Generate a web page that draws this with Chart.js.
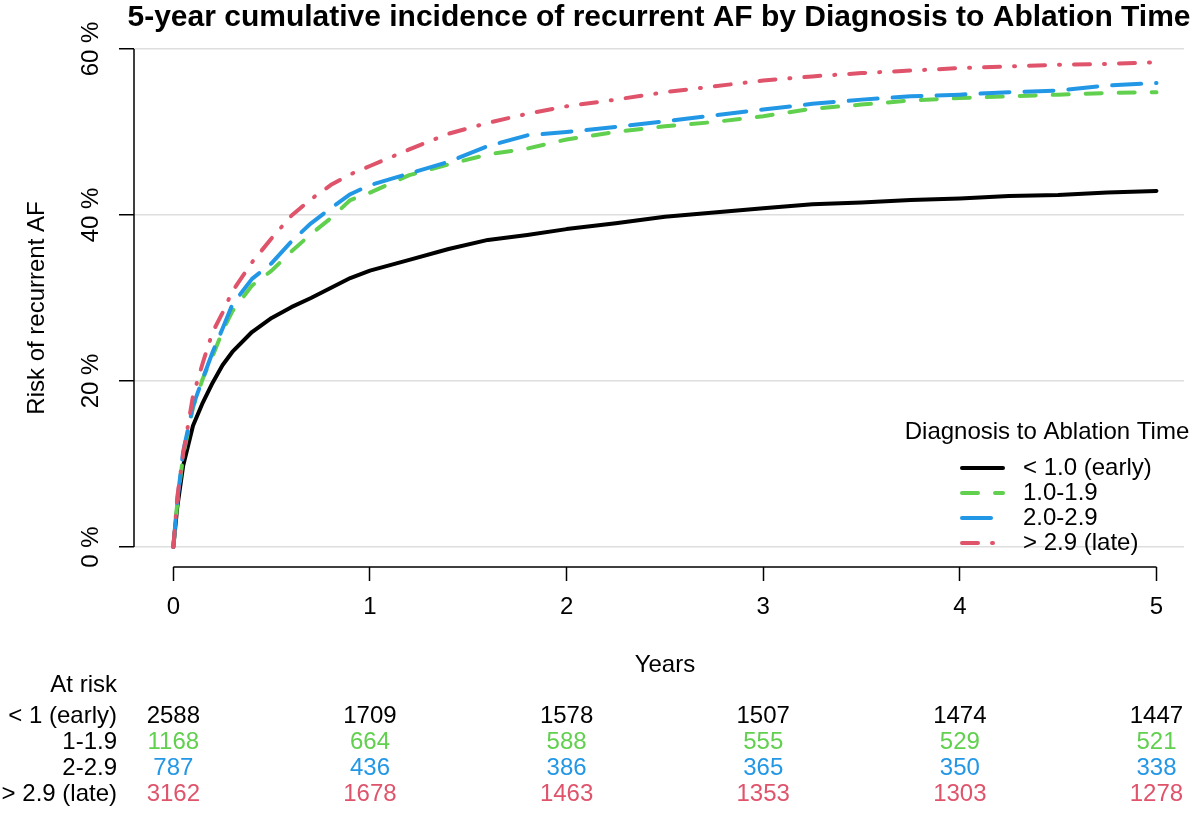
<!DOCTYPE html>
<html>
<head>
<meta charset="utf-8">
<script src="https://cdn.jsdelivr.net/npm/chart.js@4.4.1/dist/chart.umd.min.js"></script>
<style>
  html, body { margin: 0; padding: 0; background: #fff; }
</style>
</head>
<body>
<canvas id="cif" width="1200" height="818"></canvas>
<script>
const years = [0, 0.02, 0.05, 0.1, 0.15, 0.2, 0.25, 0.3, 0.4, 0.5, 0.6, 0.7, 0.8, 0.9, 1.0,
               1.2, 1.4, 1.6, 1.8, 2.0, 2.25, 2.5, 2.75, 3.0, 3.25, 3.5, 3.75, 4.0, 4.25, 4.5, 4.75, 5.0];

// Cumulative incidence (%) per group
const riskEarly = [0, 4.8, 9.8, 14.6, 17.4, 19.8, 21.9, 23.5, 25.9, 27.6, 28.9, 30.0, 31.2, 32.4, 33.3,
                   34.6, 35.9, 37.0, 37.6, 38.3, 39.0, 39.8, 40.3, 40.8, 41.3, 41.5, 41.8, 42.0, 42.3, 42.4, 42.7, 42.9];
const risk1to2 = [0, 5.3, 11.0, 16.8, 20.3, 23.0, 26.0, 28.4, 31.5, 33.3, 35.6, 37.7, 39.6, 41.8, 42.7,
                  44.8, 46.1, 47.3, 48.0, 49.1, 50.0, 50.7, 51.2, 51.9, 52.8, 53.3, 53.8, 54.1, 54.3, 54.5, 54.7, 54.8];
const risk2to3 = [0, 5.5, 11.5, 17.0, 20.3, 23.5, 26.3, 29.2, 32.3, 34.2, 36.8, 39.0, 40.8, 42.5, 43.6,
                  45.0, 46.4, 48.3, 49.6, 50.0, 50.6, 51.3, 52.0, 52.7, 53.4, 53.9, 54.3, 54.5, 54.8, 55.0, 55.6, 55.9];
const riskLate = [0, 6.0, 11.2, 18.2, 22.2, 25.9, 28.2, 30.8, 34.3, 37.2, 39.9, 41.9, 43.6, 44.9, 45.9,
                  47.9, 49.8, 51.1, 52.2, 53.1, 53.9, 54.8, 55.5, 56.2, 56.7, 57.1, 57.4, 57.7, 57.9, 58.1, 58.2, 58.4];

const groupLabels = ['< 1.0 (early)', '1.0-1.9', '2.0-2.9', '> 2.9 (late)'];
const groupColors = ['#000000', '#61D04F', '#2297E6', '#DF536B'];

// Numbers at risk table
const riskRowLabels = ['< 1 (early)', '1-1.9', '2-2.9', '> 2.9 (late)'];
const riskTimes = [0, 1, 2, 3, 4, 5];
const atRiskEarly = [2588, 1709, 1578, 1507, 1474, 1447];
const atRisk1to2 = [1168, 664, 588, 555, 529, 521];
const atRisk2to3 = [787, 436, 386, 365, 350, 338];
const atRiskLate = [3162, 1678, 1463, 1353, 1303, 1278];

const xTicks = [0, 1, 2, 3, 4, 5];
const yTicks = [0, 20, 40, 60];

const chartTitle = '5-year cumulative incidence of recurrent AF by Diagnosis to Ablation Time';
const legendTitle = 'Diagnosis to Ablation Time';
const FONT = '"Liberation Sans", Arial, sans-serif';

function toPoints(vals) {
    return years.map((t, i) => ({x: t, y: vals[i]}));
}

const dashes = [[], [16, 17], [29, 15], [16, 14, 1, 14]];

const datasets = [riskEarly, risk1to2, risk2to3, riskLate].map((vals, i) => ({
    label: groupLabels[i],
    data: toPoints(vals),
    borderColor: groupColors[i],
    borderWidth: 4,
    borderDash: dashes[i],
    borderCapStyle: 'round',
    borderJoinStyle: 'round',
    pointRadius: 0,
    tension: 0,
    fill: false,
    order: 3 - i          // late group painted last
}));

/* Title, axis lines, y labels, legend and at-risk table */
const extras = {
    id: 'extras',
    afterDraw(chart) {
        const {ctx, chartArea} = chart;
        const x = chart.scales.x, y = chart.scales.y;
        ctx.save();
        ctx.fillStyle = '#000';

        ctx.font = 'bold 30px ' + FONT;
        ctx.textAlign = 'center';
        ctx.textBaseline = 'middle';
        ctx.fillText(chartTitle, (chartArea.left + chartArea.right) / 2, 18);

        ctx.strokeStyle = '#000';
        ctx.lineWidth = 1.5;
        ctx.beginPath();
        ctx.moveTo(chartArea.left, y.getPixelForValue(yTicks[0]));
        ctx.lineTo(chartArea.left, y.getPixelForValue(yTicks[yTicks.length - 1]));
        ctx.moveTo(x.getPixelForValue(xTicks[0]), chartArea.bottom);
        ctx.lineTo(x.getPixelForValue(xTicks[xTicks.length - 1]), chartArea.bottom);
        ctx.stroke();

        ctx.font = '24px ' + FONT;
        yTicks.forEach(v => {
            ctx.save();
            ctx.translate(91, y.getPixelForValue(v));
            ctx.rotate(-Math.PI / 2);
            ctx.fillText(v + ' %', 0, 0);
            ctx.restore();
        });

        ctx.fillText('Years', (x.getPixelForValue(0) + x.getPixelForValue(5)) / 2, 665);

        // legend
        ctx.fillText(legendTitle, 1047, 432);
        ctx.textAlign = 'left';
        chart.data.datasets.forEach((ds, i) => {
            const ly = 468 + i * 25;
            ctx.save();
            ctx.strokeStyle = ds.borderColor;
            ctx.lineWidth = ds.borderWidth;
            ctx.lineCap = 'round';
            ctx.setLineDash(ds.borderDash);
            ctx.beginPath();
            ctx.moveTo(962, ly);
            ctx.lineTo(1003, ly);
            ctx.stroke();
            ctx.restore();
            ctx.fillText(ds.label, 1023, ly);
        });

        // numbers at risk
        ctx.textAlign = 'right';
        ctx.fillText('At risk', 117, 685);
        const rows = [atRiskEarly, atRisk1to2, atRisk2to3, atRiskLate];
        rows.forEach((row, r) => {
            const ry = 716 + r * 26;
            ctx.fillStyle = '#000';
            ctx.textAlign = 'right';
            ctx.fillText(riskRowLabels[r], 117, ry);
            ctx.fillStyle = groupColors[r];
            ctx.textAlign = 'center';
            row.forEach((n, k) => ctx.fillText(String(n), x.getPixelForValue(riskTimes[k]), ry));
        });
        ctx.restore();
    }
};

new Chart(document.getElementById('cif'), {
    type: 'line',
    data: {datasets: datasets},
    options: {
        responsive: false,
        animation: false,
        devicePixelRatio: 1,
        layout: {padding: {top: 49, right: 16, left: 0, bottom: 0}},
        plugins: {legend: {display: false}, tooltip: {enabled: false}},
        scales: {
            x: {
                type: 'linear',
                min: -0.2,
                max: 5.14,
                afterBuildTicks: s => { s.ticks = xTicks.map(v => ({value: v})); },
                afterFit: s => { s.height = 251; },
                border: {display: false},
                grid: {drawOnChartArea: false, drawTicks: true, tickLength: 14, tickColor: '#000', tickWidth: 1.5},
                ticks: {color: '#000', font: {family: FONT, size: 24}, padding: 12, maxRotation: 0, autoSkip: false}
            },
            y: {
                type: 'linear',
                min: -2.41,
                max: 60,
                afterBuildTicks: s => { s.ticks = yTicks.map(v => ({value: v})); },
                afterFit: s => { s.width = 134; },
                border: {display: false},
                grid: {color: '#dedede', lineWidth: 1.5, tickColor: '#000', tickWidth: 1.5, tickLength: 15},
                ticks: {display: false},
                title: {display: true, text: 'Risk of recurrent AF', color: '#000',
                        font: {family: FONT, size: 24}, padding: {top: 23, bottom: 0}}
            }
        }
    },
    plugins: [extras]
});
</script>
</body>
</html>
